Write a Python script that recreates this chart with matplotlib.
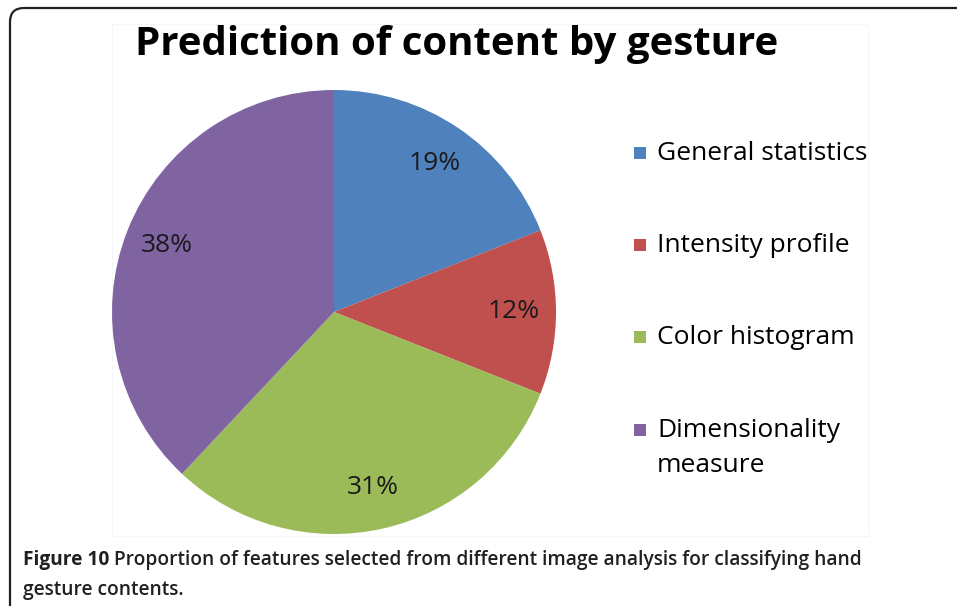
import matplotlib
matplotlib.use("Agg")
import matplotlib.pyplot as plt
from matplotlib.patches import FancyBboxPatch, Rectangle

categories = ["General statistics", "Intensity profile", "Color histogram", "Dimensionality\nmeasure"]
values = [19, 12, 31, 38]
colors = ["#4F81BD", "#C0504D", "#9BBB59", "#8064A2"]
title = "Prediction of content by gesture"
caption_bold = "Figure 10"
caption_rest = " Proportion of features selected from different image analysis for classifying hand"
caption_line2 = "gesture contents."

W, H = 957, 606
fig = plt.figure(figsize=(W / 100, H / 100), dpi=100)
fig.patch.set_facecolor("white")

def fx(x):
    return x / W

def fy(y):
    return 1 - y / H

# outer rounded border (top + left only visible)
bg = fig.add_axes([0, 0, 1, 1])
bg.set_xlim(0, W)
bg.set_ylim(H, 0)
bg.axis("off")
box = FancyBboxPatch((10, 8), W + 40, H + 40, boxstyle="round,pad=0,rounding_size=14",
                     fill=False, edgecolor="#222222", linewidth=1.6)
bg.add_patch(box)
# faint chart frame
bg.add_patch(Rectangle((112, 24), 756, 512, fill=False, edgecolor="#f6f6f6", linewidth=0.8))

# pie
cx, cy, r = 334, 312, 222
ax = fig.add_axes([fx(cx - r), fy(cy + r), 2 * r / W, 2 * r / H])
wedges, texts, autotexts = ax.pie(values, colors=colors, startangle=90, counterclock=False,
                                  autopct=lambda p: f"{p:.0f}%", pctdistance=0.81,
                                  radius=1, wedgeprops=dict(linewidth=0))
for t in autotexts:
    t.set_fontsize(19)
    t.set_color("#1a1a1a")
    t.set_family("Open Sans")
ax.set_xlim(-1, 1)
ax.set_ylim(-1, 1)
ax.set_aspect("equal")
ax.axis("off")

# title
fig.text(fx(457), fy(45), title, ha="center", va="center", fontsize=29,
         fontweight="bold", family="Open Sans", color="black")

# legend
leg_y = [153, 245, 337, 448]
for lab, col, y in zip(categories, colors, leg_y):
    first_y = y if "\n" not in lab else 430
    bg.add_patch(Rectangle((634, first_y - 6), 12, 12, facecolor=col, edgecolor="none"))
    bg.text(657, y, lab, ha="left", va="center", fontsize=19, family="Open Sans",
            color="black", linespacing=1.5)

# caption
t1 = bg.text(23, 560, caption_bold, ha="left", va="center", fontsize=13.8,
             fontweight="bold", family="Open Sans", color="#231f20")
fig.canvas.draw()
bb = t1.get_window_extent()
x_end = bb.x1
bg.text(x_end, 560, caption_rest, ha="left", va="center", fontsize=13.8,
        fontweight="semibold", family="Open Sans", color="#231f20")
bg.text(23, 590, caption_line2, ha="left", va="center", fontsize=13.8,
        fontweight="semibold", family="Open Sans", color="#231f20")

fig.savefig("out.png", dpi=100, facecolor="white")
